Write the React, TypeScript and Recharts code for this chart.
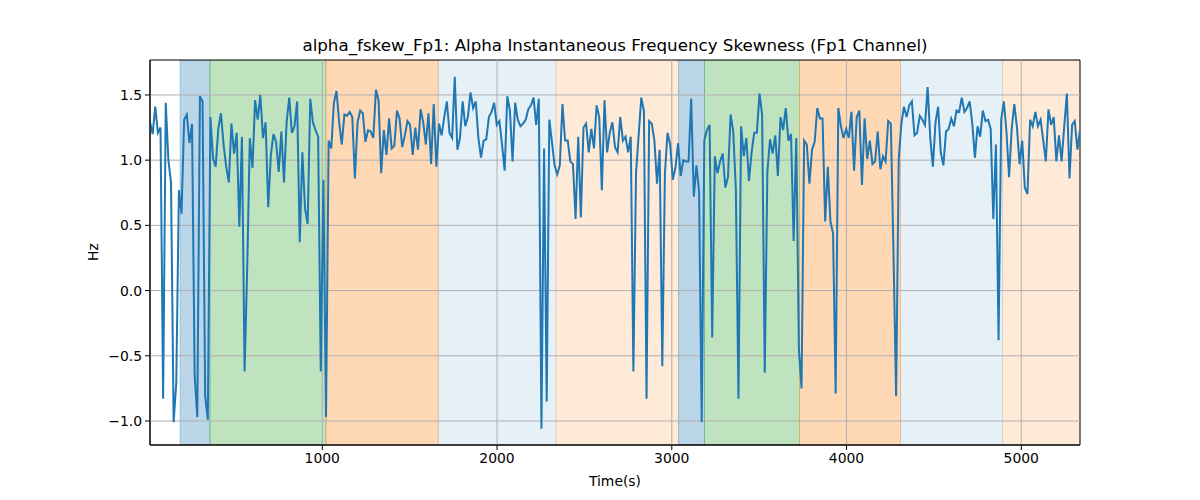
import React from 'react';
import { LineChart, Line, XAxis, YAxis, ReferenceArea, ReferenceLine } from 'recharts';

const T_START = 14;
const T_END = 5336;
const Y_MIN = -1.184;
const Y_MAX = 1.768;

const values = [
  1.29, 1.20, 1.41, 1.21, 1.25, -0.83, 1.44, 1.00, 0.83, -1.01,
  -0.71, 0.77, 0.59, 1.31, 1.35, 1.13, 1.28, -0.65, -0.97, 1.49,
  1.45, -0.81, -0.99, 1.33, 1.01, 0.95, 1.24, 1.36, 1.12, 0.95,
  0.83, 1.28, 1.05, 1.21, 0.49, 1.18, -0.62, 0.17, 1.17, 0.94,
  1.46, 1.31, 1.50, 1.17,
  1.29, 0.64, 1.04, 1.20, 1.14, 0.91, 1.22, 0.83, 1.29, 1.48,
  1.21, 1.26, 1.45, 0.37, 1.06, 0.63, 0.51, 1.47, 1.29, 1.23,
  1.18, -0.62, 0.85, -0.97, 1.15, 1.09, 1.44, 1.53, 1.29, 1.12,
  1.35, 1.34, 1.37, 1.33, 0.86, 1.29, 1.38, 1.36, 1.14, 1.23,
  1.22, 1.17, 1.54, 1.46,
  0.90, 1.23, 1.04, 1.32, 1.09, 1.11, 1.38, 1.32, 1.10, 1.19,
  1.30, 1.27, 1.04, 1.25, 1.08, 1.39, 1.29, 1.12, 1.36, 0.97,
  1.43, 0.95, 1.28, 1.19, 1.33, 1.45, 1.21, 1.17, 1.64, 1.08,
  1.17, 1.45, 1.26, 1.33, 1.52, 1.40, 1.45, 1.17, 1.02, 1.15,
  1.16, 1.33, 1.37, 1.44,
  1.27, 1.30, 1.12, 0.92, 1.49, 1.38, 0.99, 1.44, 1.31, 1.26,
  1.28, 1.31, 1.39, 1.42, 1.48, 1.27, 1.47, -1.06, 1.09, -0.85,
  1.31, 1.14, 0.96, 0.89, 0.96, 1.43, 1.15, 1.15, 0.99, 0.97,
  0.55, 1.18, 0.56, 1.25, 1.28, 1.06, 1.24, 1.09, 1.42, 1.33,
  0.77, 1.46, 1.06,
  1.21, 1.29, 1.10, 1.06, 1.33, 1.15, 1.18, 1.06, 1.18, -0.62,
  0.90, 1.19, 1.48, 1.38, -0.83, 1.30, 1.28, 1.15, 0.82, 1.08,
  -0.58, 0.90, 1.21, 1.12, 0.85, 0.94, 1.13, 0.88, 1.00, 0.99,
  0.99, 1.47, 0.72, 0.96, 0.76, -1.01, 1.15, 1.23, 1.27, -0.36,
  1.03, 0.90, 0.99, 1.05,
  0.79, 0.87, 1.35, 1.22, 0.78, -0.83, 1.26, 1.03, 1.17, 0.84,
  1.06, 1.21, 1.21, 1.51, 1.35, -0.63, 0.91, 1.16, 1.05, 1.19,
  0.88, 1.33, 1.23, 1.40, 1.15, 1.20, 0.38, 1.17, -0.45, -0.75,
  1.15, 1.12, 0.82, 1.08, 1.14, 1.40, 1.32, 1.32, 0.53, 0.95,
  0.53, 0.44, -0.79, 1.40,
  1.26, 1.17, 1.24, 1.17, 1.37, 0.92, 1.33, 1.38, 0.81, 1.32,
  1.01, 1.15, 0.97, 0.99, 1.22, 0.93, 1.03, 0.99, 1.30, 1.28,
  0.30, -0.81, 1.01, 1.28, 1.41, 1.33, 1.42, 1.45, 1.19, 1.21,
  1.34, 1.31, 1.27, 1.56, 1.17, 0.95, 1.29, 1.41, 1.06, 0.96,
  1.22, 1.24, 1.32, 1.26,
  1.38, 1.37, 1.48, 1.37, 1.40, 1.45, 1.28, 1.02, 1.26, 1.18,
  1.38, 1.30, 1.31, 1.24, 0.55, 1.12, -0.38, 1.31, 1.45, 1.22,
  0.87, 1.24, 1.43, 1.25, 0.97, 1.15, 0.79, 0.74, 1.31, 1.26,
  1.37, 1.26, 1.31, 1.15, 0.99, 1.39, 1.27, 1.33, 0.99, 1.19,
  0.99, 1.26, 1.51, 0.86, 1.27, 1.30, 1.08, 1.23,
];

const xTicks = [1000, 2000, 3000, 4000, 5000];
const yTicks = [-1.0, -0.5, 0.0, 0.5, 1.0, 1.5];

const bandStarts = [186, 357, 1021, 1664, 2337, 3039, 3187, 3731, 4309, 4893];
const bandEnds = [357, 1021, 1664, 2337, 3039, 3187, 3731, 4309, 4893, 5336];
const bandColors = ['#1f77b4', '#2ca02c', '#ff7f0e', '#1f77b4', '#ff7f0e', '#1f77b4', '#2ca02c', '#ff7f0e', '#1f77b4', '#ff7f0e'];
const bandAlphas = [0.3, 0.3, 0.3, 0.11, 0.16, 0.3, 0.3, 0.3, 0.11, 0.16];

const data = values.map((v, i) => ({
  t: T_START + (i * (T_END - T_START)) / (values.length - 1),
  v,
}));

const fmtY = (v: number) => (v < 0 ? '\u2212' + Math.abs(v).toFixed(1) : v.toFixed(1));

const FONT = '"DejaVu Sans", sans-serif';

export default function App() {
  return (
    <div style={{ position: 'absolute', left: 0, top: 0, width: 1200, height: 500, background: '#fff', fontFamily: FONT }}>
      <div
        style={{
          position: 'absolute',
          left: 150,
          width: 930,
          top: 35,
          textAlign: 'center',
          fontSize: 16.7,
          lineHeight: '20px',
          color: '#000',
          whiteSpace: 'nowrap',
        }}
      >
        alpha_fskew_Fp1: Alpha Instantaneous Frequency Skewness (Fp1 Channel)
      </div>
      <div
        style={{
          position: 'absolute',
          left: 150,
          width: 930,
          top: 472,
          textAlign: 'center',
          fontSize: 13.9,
          lineHeight: '18px',
          color: '#000',
        }}
      >
        Time(s)
      </div>
      <div
        style={{
          position: 'absolute',
          left: 93,
          top: 252,
          transform: 'translate(-50%, -50%) rotate(-90deg)',
          fontSize: 13.9,
          lineHeight: '18px',
          color: '#000',
        }}
      >
        Hz
      </div>
      <LineChart width={1200} height={500} data={data} margin={{ top: 60, right: 120, bottom: 0, left: 0 }}>
        <XAxis
          dataKey="t"
          type="number"
          domain={[T_START, T_END]}
          ticks={xTicks}
          allowDataOverflow
          height={55}
          axisLine={{ stroke: '#000', strokeWidth: 1 }}
          tickLine={{ stroke: '#000' }}
          tickSize={5}
          tickMargin={3}
          tick={{ fill: '#000', fontSize: 13.9, fontFamily: FONT }}
        />
        <YAxis
          type="number"
          domain={[Y_MIN, Y_MAX]}
          ticks={yTicks}
          allowDataOverflow
          width={150}
          tickFormatter={fmtY}
          axisLine={{ stroke: '#000', strokeWidth: 1 }}
          tickLine={{ stroke: '#000' }}
          tickSize={5}
          tickMargin={3}
          tick={{ fill: '#000', fontSize: 13.9, fontFamily: FONT }}
        />
        {bandStarts.map((s, i) => (
          <ReferenceArea
            key={'b' + i}
            x1={s}
            x2={bandEnds[i]}
            y1={Y_MIN}
            y2={Y_MAX}
            fill={bandColors[i]}
            fillOpacity={bandAlphas[i]}
            stroke={bandColors[i]}
            strokeOpacity={bandAlphas[i]}
            ifOverflow="hidden"
          />
        ))}
        {xTicks.map((t) => (
          <ReferenceLine key={'gx' + t} x={t} stroke="#b0b0b0" strokeWidth={1} />
        ))}
        {yTicks.map((t) => (
          <ReferenceLine key={'gy' + t} y={t} stroke="#b0b0b0" strokeWidth={1} />
        ))}
        <Line
          type="linear"
          dataKey="v"
          stroke="#1f77b4"
          strokeWidth={2}
          dot={false}
          isAnimationActive={false}
        />
        <ReferenceArea
          x1={T_START}
          x2={T_END}
          y1={Y_MIN}
          y2={Y_MAX}
          fill="none"
          stroke="#000"
          strokeWidth={1}
          ifOverflow="visible"
        />
      </LineChart>
    </div>
  );
}
